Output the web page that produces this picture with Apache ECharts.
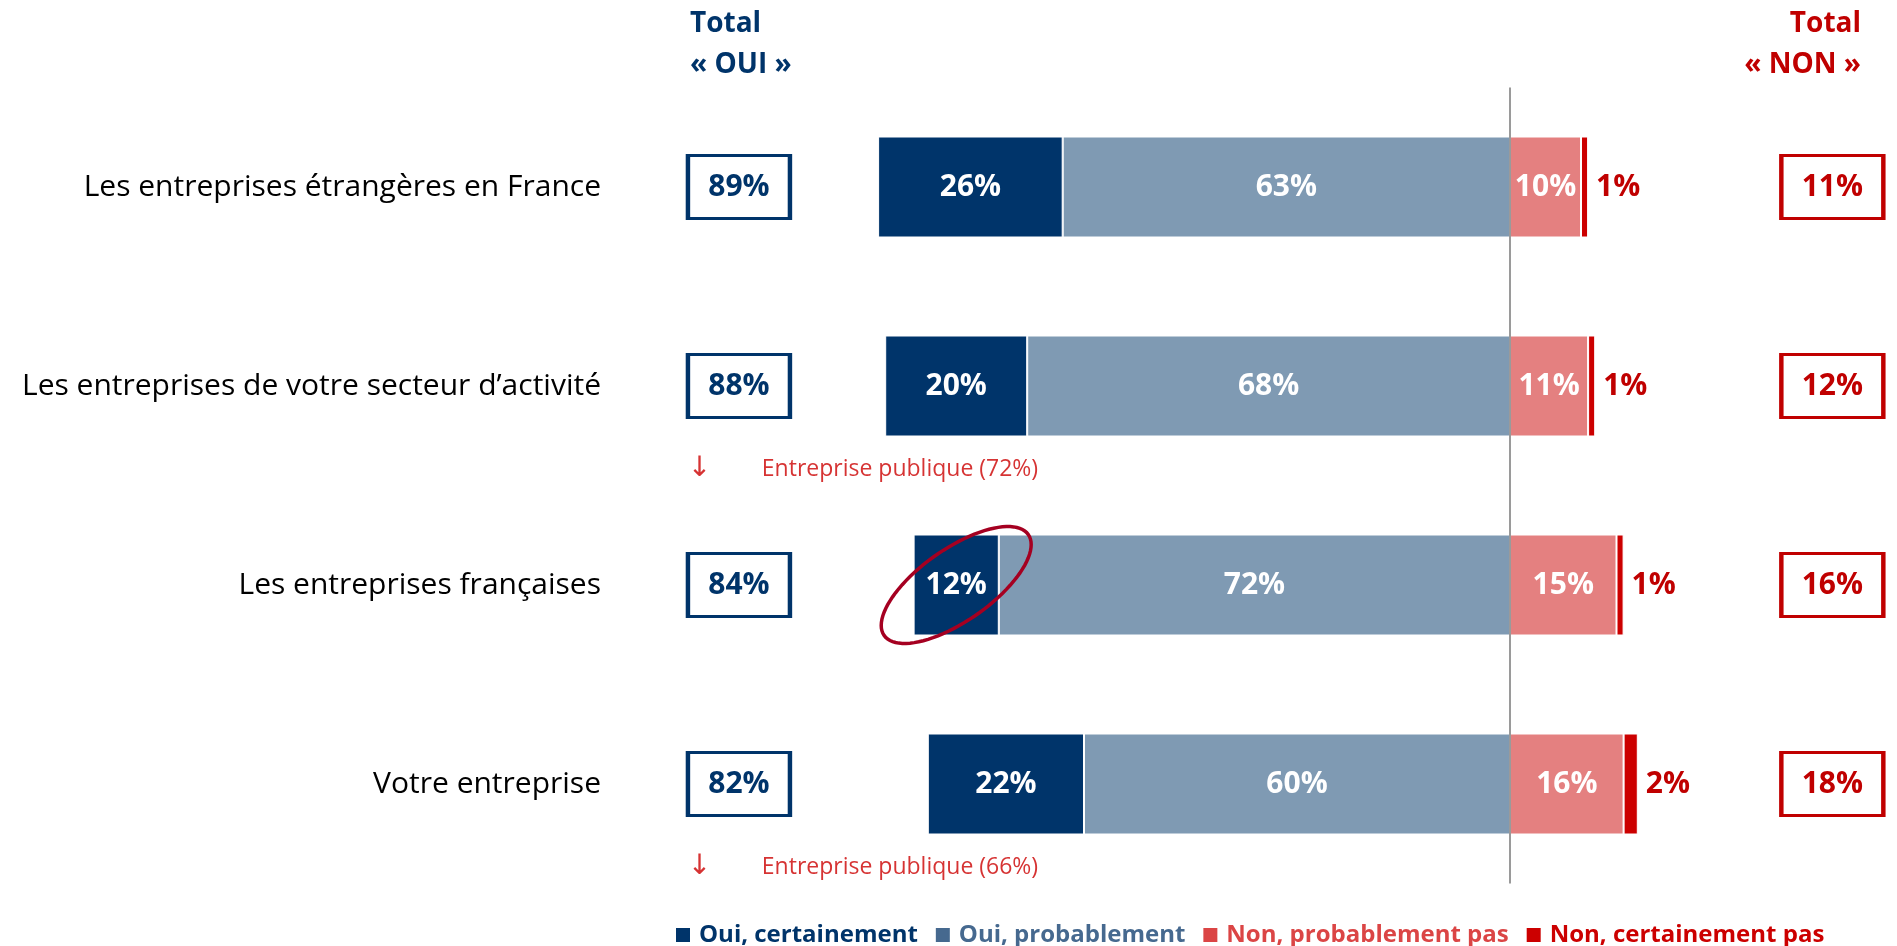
<!DOCTYPE html>
<html lang="fr">
<head>
	<meta charset="UTF-8">
	<title>Oui / Non par type d'entreprise</title>
	<style>
		html, body { margin: 0; padding: 0; background: #fff; }
	</style>
</head>
<body>
	<div id="main" style="width: 1897px;height: 946px"></div>
	<script src="https://cdn.jsdelivr.net/npm/echarts@6/dist/echarts.min.js"></script>
	<script>
		// donnees
		var categories = [
			'Les entreprises étrangères en France',
			'Les entreprises de votre secteur d’activité',
			'Les entreprises françaises',
			'Votre entreprise'
		];
		var ouiCertainement = [26, 20, 12, 22];
		var ouiProbablement = [63, 68, 72, 60];
		var nonProbablement = [10, 11, 15, 16];
		var nonCertainement = [1, 1, 1, 2];
		var totalOui = [89, 88, 84, 82];
		var totalNon = [11, 12, 16, 18];
		var notes = [
			{ category: 'Les entreprises de votre secteur d’activité', text: 'Entreprise publique (72%)' },
			{ category: 'Votre entreprise', text: 'Entreprise publique (66%)' }
		];
		var highlighted = 'Les entreprises françaises';   // cercle autour de "Oui, certainement"

		var font = 'Open Sans';
		var navy = '#00346A';
		var red = '#C00000';

		var myChart = echarts.init(document.getElementById('main'));

		function pct(p) {
			return Math.abs(p.value) + '%';
		}

		var hi = categories.indexOf(highlighted);
		var ellipseX = -(ouiProbablement[hi] + ouiCertainement[hi] / 2);

		var option = {
			animation: false,
			title: [
				{
					text: 'Total\n« OUI »',
					left: 690, top: 4, padding: 0,
					textStyle: { color: navy, fontSize: 28, fontWeight: 'bold', lineHeight: 41, fontFamily: font }
				},
				{
					text: 'Total\n« NON »',
					left: 1861, top: 4, padding: 0, textAlign: 'right',
					textStyle: { color: red, fontSize: 28, fontWeight: 'bold', lineHeight: 41, fontFamily: font }
				}
			],
			legend: {
				left: 669,
				top: 918,
				itemWidth: 16,
				itemHeight: 16,
				itemGap: 16,
				icon: 'rect',
				selectedMode: false,
				textStyle: { fontSize: 24, fontWeight: 'bold', fontFamily: font, padding: [0, 0, 0, 3] },
				data: [
					{ name: 'Oui, certainement', itemStyle: { color: navy }, textStyle: { color: navy } },
					{ name: 'Oui, probablement', itemStyle: { color: '#46698F' }, textStyle: { color: '#46698F' } },
					{ name: 'Non, probablement pas', itemStyle: { color: '#DB4545' }, textStyle: { color: '#DB4545' } },
					{ name: 'Non, certainement pas', itemStyle: { color: '#CC0000' }, textStyle: { color: '#CC0000' } }
				]
			},
			grid: {
				left: 658,
				right: 32,
				top: 87.5,
				height: 796
			},
			xAxis: {
				type: 'value',
				min: -120,
				max: 50,
				show: false
			},
			yAxis: {
				type: 'category',
				inverse: true,
				data: categories,
				axisLine: { show: false },
				axisTick: { show: false },
				axisLabel: { margin: 57, color: '#000', fontSize: 30, fontFamily: font }
			},
			series: [
				{
					name: 'Oui, probablement',
					type: 'bar',
					stack: 'total',
					barWidth: 101,
					data: ouiProbablement.map(function (v) { return -v; }),
					itemStyle: { color: '#7F9AB3', borderColor: '#fff', borderWidth: 1 },
					label: { show: true, position: 'inside', color: '#fff', fontSize: 30, fontWeight: 'bold', fontFamily: font, formatter: pct }
				},
				{
					name: 'Oui, certainement',
					type: 'bar',
					stack: 'total',
					barWidth: 101,
					data: ouiCertainement.map(function (v) { return -v; }),
					itemStyle: { color: navy, borderColor: '#fff', borderWidth: 1 },
					label: { show: true, position: 'inside', color: '#fff', fontSize: 30, fontWeight: 'bold', fontFamily: font, formatter: pct }
				},
				{
					name: 'Non, probablement pas',
					type: 'bar',
					stack: 'total',
					barWidth: 101,
					data: nonProbablement,
					itemStyle: { color: '#E48080', borderColor: '#fff', borderWidth: 1 },
					label: { show: true, position: 'inside', color: '#fff', fontSize: 30, fontWeight: 'bold', fontFamily: font, formatter: pct },
					markLine: {
						silent: true,
						symbol: 'none',
						label: { show: false },
						lineStyle: { color: '#9A9A9A', width: 2, type: 'solid' },
						data: [{ xAxis: 0 }]
					}
				},
				{
					name: 'Non, certainement pas',
					type: 'bar',
					stack: 'total',
					barWidth: 101,
					data: nonCertainement,
					itemStyle: { color: '#CC0000', borderColor: '#fff', borderWidth: 1 },
					label: { show: true, position: 'right', distance: 8, color: red, fontSize: 30, fontWeight: 'bold', fontFamily: font, formatter: pct }
				},
				{
					// cadres Total OUI
					name: 'totalOui',
					type: 'scatter',
					symbol: 'rect',
					symbolSize: [102, 63],
					silent: true,
					data: totalOui.map(function (v, i) { return [-108.6, categories[i], v]; }),
					itemStyle: { color: '#fff', borderColor: navy, borderWidth: 3.5, opacity: 1 },
					label: { show: true, position: 'inside', color: navy, fontSize: 30, fontWeight: 'bold', fontFamily: font,
						formatter: function (p) { return p.value[2] + '%'; } }
				},
				{
					// cadres Total NON
					name: 'totalNon',
					type: 'scatter',
					symbol: 'rect',
					symbolSize: [102, 63],
					silent: true,
					data: totalNon.map(function (v, i) { return [45.4, categories[i], v]; }),
					itemStyle: { color: '#fff', borderColor: red, borderWidth: 3.5, opacity: 1 },
					label: { show: true, position: 'inside', color: red, fontSize: 30, fontWeight: 'bold', fontFamily: font,
						formatter: function (p) { return p.value[2] + '%'; } }
				},
				{
					// notes sous certaines lignes
					name: 'notes',
					type: 'scatter',
					symbolSize: 0,
					silent: true,
					data: notes.map(function (n) { return [-115.8, n.category, n.text]; }),
					label: {
						show: true,
						position: 'right',
						distance: 0,
						offset: [0, 83],
						formatter: function (p) { return '{a|↓}{b|' + p.value[2] + '}'; },
						rich: {
							a: { width: 74, fontSize: 28, color: '#CC0000', fontFamily: 'DejaVu Sans' },
							b: { fontSize: 23, color: '#CC0000', fontFamily: font }
						}
					}
				},
				{
					// ellipse de mise en avant
					name: 'cercle',
					type: 'custom',
					silent: true,
					z: 10,
					data: [[ellipseX, hi]],
					renderItem: function (params, api) {
						var c = api.coord([api.value(0), api.value(1)]);
						var a = 88, b = 36, th = -35 * Math.PI / 180;
						var pts = [];
						for (var k = 0; k < 90; k++) {
							var t = k / 90 * Math.PI * 2;
							var x = a * Math.cos(t), y = b * Math.sin(t);
							pts.push([c[0] + x * Math.cos(th) - y * Math.sin(th), c[1] + x * Math.sin(th) + y * Math.cos(th)]);
						}
						return {
							type: 'polygon',
							shape: { points: pts },
							style: { fill: 'none', stroke: '#A50021', lineWidth: 3.5 }
						};
					}
				}
			]
		};

		myChart.setOption(option);
	</script>
</body>
</html>
